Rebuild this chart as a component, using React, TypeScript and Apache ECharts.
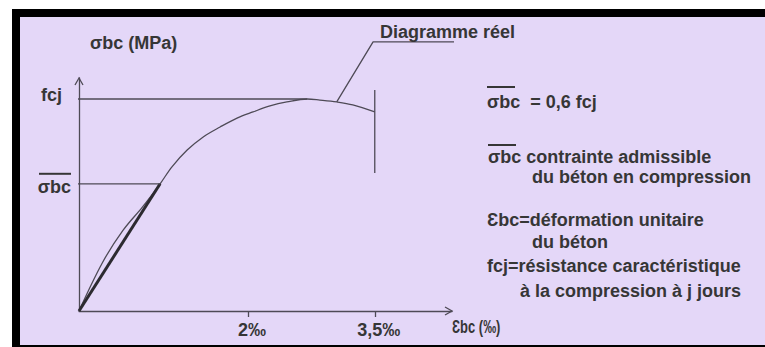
import React, { useEffect, useRef } from "react";
import * as echarts from "echarts";

// Concrete stress-strain diagram (σbc / εbc), stress expressed as a fraction of fcj.
const strainReal = [0, 0.28, 0.52, 0.75, 0.96, 1.1, 1.28, 1.47, 1.67, 1.87, 2.06, 2.26, 2.46, 2.7, 2.85, 3.05, 3.24, 3.5];
const stressReal = [0, 0.23, 0.38, 0.49, 0.6, 0.68, 0.759, 0.821, 0.868, 0.91, 0.939, 0.967, 0.986, 1.0, 0.995, 0.986, 0.972, 0.939];

const fcj = 1;
const sigmaBc = 0.6 * fcj;
const strainAtSigmaBc = 0.96;
const strainAtPeak = 2.7;
const strainUltimate = 3.5;
const ultimateMarkRange = [0.651, 1.042];

const secantStrain = [0, strainAtSigmaBc];
const secantStress = [0, sigmaBc];

const xTickValues = [2, 3.5];
const xTickLabels = ["2‰", "3,5‰"];
const yTickValues = [sigmaBc, fcj];
const yTickLabels = ["σbc", "fcj"];

// Leader from the curve to the "Diagramme réel" caption
const leaderStrain = [3.05, 3.48, 5.24];
const leaderStress = [0.986, 1.269, 1.269];

const LINE = "#4e4a56";
const TEXT = "#363636";
const BG = "#e4d7f8";
const FAMILY = "'Liberation Sans', Arial, 'DejaVu Sans', sans-serif";
const FONT = `bold 18px ${FAMILY}`;

const GRID = { left: 79, top: 78, width: 373, height: 233 };

const pairs = (xs: number[], ys: number[]) => xs.map((x, i) => [x, ys[i]]);

export default function App() {
  const ref = useRef<HTMLDivElement>(null);

  useEffect(() => {
    if (!ref.current) return;
    const chart = echarts.init(ref.current, undefined, { renderer: "svg" });

    const txt = (text: string, x: number, y: number, extra: any = {}) => ({
      type: "text",
      z: 10,
      ...extra,
      style: { text, x, y, font: FONT, fill: TEXT, verticalAlign: "middle", align: "left" },
    });
    const overline = (x: number, y: number, w: number) => ({
      type: "rect",
      z: 10,
      shape: { x, y, width: w, height: 2 },
      style: { fill: TEXT },
    });
    const chevron = (points: number[][]) => ({
      type: "polyline",
      z: 10,
      shape: { points },
      style: { stroke: LINE, lineWidth: 1.3, fill: "none" },
    });

    const lineSeries = (data: number[][], width: number, color = LINE) => ({
      type: "line",
      data,
      symbol: "none",
      clip: false,
      silent: true,
      lineStyle: { color, width },
    });

    // Open arrow heads at the ends of both axes
    const yTip = [GRID.left, GRID.top];
    const xTip = [GRID.left + GRID.width, GRID.top + GRID.height];

    chart.setOption({
      animation: false,
      backgroundColor: "#ffffff",
      grid: GRID,
      xAxis: {
        type: "value",
        min: 0,
        max: 4.414,
        splitLine: { show: false },
        axisLine: { show: true, lineStyle: { color: LINE, width: 1.3 } },
        axisTick: { show: true, customValues: xTickValues, length: 6, lineStyle: { color: LINE, width: 1.3 } },
        axisLabel: {
          customValues: xTickValues,
          margin: 10,
          padding: [0, 0, 0, 8],
          color: TEXT,
          fontFamily: FAMILY,
          fontWeight: "bold",
          fontSize: 18,
          formatter: (v: number) => xTickLabels[xTickValues.indexOf(v)] ?? "",
        },
      },
      yAxis: {
        type: "value",
        min: 0,
        max: 1.099,
        splitLine: { show: false },
        axisLine: { show: true, lineStyle: { color: LINE, width: 1.3 } },
        axisTick: { show: false },
        axisLabel: {
          customValues: yTickValues,
          margin: 8,
          color: TEXT,
          formatter: (v: number) => {
            const label = yTickLabels[yTickValues.indexOf(v)] ?? "";
            return label === "σbc" ? `{ol|}\n{t|${label}}` : `{f|${label}}`;
          },
          rich: {
            ol: { width: 32, height: 2, lineHeight: 6, backgroundColor: TEXT },
            t: { fontFamily: FAMILY, fontWeight: "bold", fontSize: 18, color: TEXT, lineHeight: 20 },
            f: { fontFamily: FAMILY, fontWeight: "bold", fontSize: 18, color: TEXT, padding: [0, 9, 8, 0] },
          },
        },
      },
      series: [
        { ...lineSeries(pairs(strainReal, stressReal), 1.3), smooth: 0.35 },
        lineSeries(pairs(secantStrain, secantStress), 3, "#2c2a30"),
        lineSeries([[-0.083, fcj], [strainAtPeak, fcj]], 1.3),
        lineSeries([[-0.036, sigmaBc], [strainAtSigmaBc, sigmaBc]], 1.3),
        lineSeries([[strainUltimate, ultimateMarkRange[0]], [strainUltimate, ultimateMarkRange[1]]], 1.3),
        lineSeries(pairs(leaderStrain, leaderStress), 1.3),
      ],
      graphic: [
        { type: "rect", z: -10, shape: { x: 12, y: 9, width: 753, height: 338 }, style: { fill: "#000000" } },
        { type: "rect", z: -9, shape: { x: 20, y: 17, width: 745, height: 328 }, style: { fill: BG } },
        chevron([[yTip[0] - 4, yTip[1] + 7], yTip, [yTip[0] + 4, yTip[1] + 7]]),
        chevron([[xTip[0] - 7, xTip[1] - 4], xTip, [xTip[0] - 7, xTip[1] + 4]]),
        txt("σbc (MPa)", 90, 43),
        txt("Ɛbc (‰)", 452, 327, { scaleX: 0.72, x: 452 * 0.28, originX: 0 }),
        txt("Diagramme réel", 380, 32),
        overline(487, 86, 28),
        txt("σbc  = 0,6 fcj", 487, 102),
        overline(488, 144, 28),
        txt("σbc contrainte admissible", 488, 157),
        txt("du béton en compression", 532, 177),
        txt("Ɛbc=déformation unitaire", 487, 220),
        txt("du béton", 532, 242),
        txt("fcj=résistance caractéristique", 487, 266),
        txt("à la compression à j jours", 520, 291),
      ],
    });

    return () => chart.dispose();
  }, []);

  return <div ref={ref} style={{ position: "fixed", left: 0, top: 0, width: 765, height: 347 }} />;
}
